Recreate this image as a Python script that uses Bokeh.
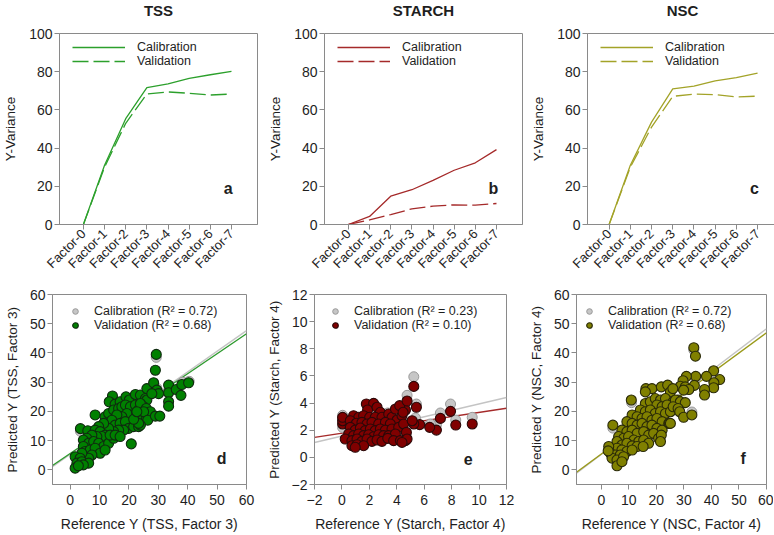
import math

from bokeh.embed import file_html
from bokeh.layouts import column, row
from bokeh.models import FixedTicker, Label, Range1d, Title
from bokeh.plotting import figure
from bokeh.resources import INLINE

# ---------------------------------------------------------------- data
factor_pos = [0, 1, 2, 3, 4, 5, 6, 7]
factor_labels = ["Factor-0", "Factor-1", "Factor-2", "Factor-3",
                 "Factor-4", "Factor-5", "Factor-6", "Factor-7"]

# explained Y-variance (%) per number of PLS factors
tss_cal_var = [0, 31.0, 55.4, 71.7, 73.6, 76.5, 78.4, 80.2]
tss_val_var = [0, 30.0, 53.0, 68.3, 69.4, 68.7, 67.8, 68.3]
starch_cal_var = [0, 4.2, 14.8, 18.2, 23.1, 28.4, 32.3, 39.2]
starch_val_var = [0, 2.4, 5.2, 8.2, 9.6, 10.3, 10.1, 11.0]
nsc_cal_var = [0, 31.0, 53.6, 71.0, 72.5, 75.2, 76.9, 79.2]
nsc_val_var = [0, 30.0, 51.0, 67.1, 68.3, 68.0, 66.8, 67.2]

# TSS: reference vs predicted (validation)
tss_val_x = [14.4, 13.3, 15.3, 17.0, 19.0, 20.1, 22.2, 23.9, 26.1, 25.6, 26.1,
             8.5, 3.5, 6.0, 20.8, 11.9, 13.1, 14.8, 16.5, 17.6, 18.8, 20.5,
             22.2, 23.3, 25.0, 24.4, 22.7, 21.0, 19.3, 17.6, 15.9, 14.2, 15.3,
             17.0, 18.8, 19.9, 21.6, 23.3, 18.2, 16.5, 14.8, 13.1, 11.4, 9.7,
             8.5, 10.2, 11.9, 10.8, 9.1, 7.4, 5.7, 4.5, 6.3, 8.0, 9.7, 11.4,
             13.1, 14.8, 13.6, 15.3, 17.0, 4.5, 5.1, 6.8, 8.5, 10.2, 11.9, 7.4,
             6.3, 4.0, 1.7, 3.4, 2.3, 4.0, 6.3, 1.7, 4.5, 2.8,
             29.3, 29.0, 28.4, 29.5, 30.1, 27.8, 33.5, 33.5, 33.5, 33.5, 36.1,
             38.0, 40.3, 37.7, 23.9, 25.9, 27.3, 25.0, 26.4, 29.0, 30.5, 23.9,
             23.3, 21.6, 22.7]
tss_val_y = [25.3, 23.3, 22.5, 23.3, 25.0, 23.9, 25.8, 25.6, 27.8, 24.4, 23.9,
             18.8, 14.1, 13.4, 8.9, 18.2, 19.3, 20.5, 21.0, 21.6, 22.2, 21.6,
             22.2, 20.5, 21.6, 18.8, 18.2, 18.8, 19.3, 18.2, 18.8, 17.0, 15.3,
             15.9, 16.5, 14.2, 14.8, 14.8, 13.6, 13.6, 13.1, 14.2, 15.9, 14.8,
             13.6, 13.1, 11.9, 11.4, 11.4, 11.9, 10.8, 10.2, 9.1, 9.7, 9.1, 8.0,
             9.1, 10.8, 11.9, 11.9, 11.4, 8.0, 6.3, 6.8, 7.4, 5.7, 6.8, 5.1,
             4.0, 5.7, 4.5, 4.0, 2.3, 2.8, 2.3, 0.6, 1.7, 1.4,
             39.5, 34.1, 29.8, 27.3, 26.1, 26.1, 29.0, 26.4, 23.3, 21.8, 27.5,
             29.2, 29.8, 25.5, 22.7, 21.0, 19.9, 19.9, 17.0, 18.4, 18.4, 15.3,
             15.9, 17.3, 19.9]
# TSS calibration points that show from behind the validation markers
tss_cal_x = [29.3, 3.5, 38.3, 40.5, 33.8, 30.0, 23.9, 29.5]
tss_cal_y = [38.5, 13.2, 30.0, 30.3, 27.0, 26.8, 23.0, 28.0]

# Starch: reference vs predicted (validation)
starch_val_x = [0.05, 0.05, 0.05,
                1.78, 2.31, 1.87, 2.56, 2.80, 0.85, 1.22, 1.58, 2.02, 2.43,
                2.92, 3.41, 3.65, 4.02, 4.38, 4.63, 3.90, 4.21, 0.61, 1.05,
                1.46, 1.83, 2.19, 2.68, 3.17, 3.53, 0.61, 0.97, 1.34, 1.70,
                2.07, 2.43, 2.80, 3.17, 3.65, 4.14, 4.50, 0.49, 0.85, 1.22,
                1.58, 1.95, 2.31, 2.68, 3.04, 3.41, 3.90, 0.24, 0.73, 1.10,
                1.46, 1.83, 2.19, 2.56, 2.92, 3.34, 3.77, 4.26, 4.63, 0.73,
                1.10, 1.58, 0.97,
                5.24, 5.43, 4.75, 7.92, 7.18, 8.30, 9.50, 6.89, 6.40, 5.67,
                5.24, 5.12, 4.70, 4.75, 4.38, 4.46]
starch_val_y = [2.46, 2.70, 2.95,
                3.93, 3.98, 3.49, 3.69, 3.32, 3.07, 2.95, 3.07, 2.95, 2.95,
                2.95, 3.19, 2.95, 2.75, 3.07, 3.49, 3.56, 3.81, 2.70, 2.51,
                2.58, 2.46, 2.58, 2.46, 2.58, 2.46, 2.21, 2.01, 2.16, 1.97,
                2.09, 1.97, 2.09, 2.01, 2.09, 2.21, 2.46, 1.72, 1.60, 1.72,
                1.60, 1.67, 1.52, 1.67, 1.60, 1.60, 1.72, 1.35, 1.23, 1.35,
                1.18, 1.35, 1.18, 1.28, 1.18, 1.40, 1.23, 1.23, 1.23, 0.86,
                0.93, 0.86, 0.74,
                5.23, 3.69, 4.15, 3.39, 2.87, 2.38, 2.46, 2.01, 2.21, 2.41,
                2.46, 2.70, 1.84, 1.35, 1.10, 3.32]
starch_cal_x = [0.05, 0.05, 0.05, 5.24, 5.43, 4.75, 7.92, 7.18, 8.30, 9.50,
                6.89, 6.45, 5.36, 4.46, 3.34, 4.60]
starch_cal_y = [2.20, 2.85, 3.10, 5.94, 3.93, 4.57, 3.93, 3.27, 2.75, 2.95,
                2.38, 2.46, 2.90, 1.72, 3.27, 3.45]

# NSC: reference vs predicted (validation)
nsc_val_x = [16.2, 18.4, 16.0, 21.8, 24.1, 25.1, 10.9, 16.0, 17.8, 19.6,
             21.5, 23.3, 26.1, 27.8, 20.2, 22.1, 23.9, 26.3, 28.1, 14.2,
             16.0, 17.8, 19.6, 21.5, 23.3, 25.1, 11.2, 13.0, 14.8, 16.6,
             18.4, 20.2, 22.1, 24.5, 9.3, 11.2, 13.0, 14.8, 16.6, 18.4,
             20.2, 22.1, 24.7, 7.5, 9.3, 11.2, 13.0, 15.4, 17.2, 19.0, 4.2,
             6.3, 8.1, 9.9, 11.8, 13.6, 15.4, 17.2, 20.8, 5.7, 7.5, 9.3, 11.2,
             13.0, 15.2, 21.8, 5.7, 7.5, 9.3, 11.2, 2.7, 3.3, 5.1, 6.9, 3.9,
             5.7, 8.1, 5.7, 7.5, 21.5, 2.5,
             33.6, 34.2, 40.8, 38.2, 43.0, 40.9, 40.8, 34.3, 33.8, 30.9, 29.7,
             28.7, 30.5, 31.8, 37.5, 37.5, 29.9, 26.0, 26.9, 28.7, 30.5, 26.1,
             27.9, 28.5, 29.9, 32.9, 25.1]
nsc_val_y = [27.8, 27.8, 26.7, 28.4, 29.0, 26.7, 23.9, 22.7, 23.3, 24.4,
             23.9, 24.4, 23.3, 23.9, 22.2, 21.6, 22.2, 21.0, 21.0, 20.5,
             19.9, 20.5, 19.3, 19.9, 19.3, 19.9, 18.8, 18.2, 17.6, 18.2,
             17.0, 17.6, 16.5, 15.9, 16.5, 15.9, 15.3, 15.9, 14.8, 15.3,
             14.2, 13.6, 15.9, 13.6, 13.1, 13.6, 12.5, 13.1, 11.9, 12.5, 15.3,
             11.4, 10.8, 11.4, 10.2, 9.7, 10.2, 9.1, 10.8, 9.7, 8.5, 9.1, 8.2,
             8.0, 8.0, 11.9, 7.4, 6.8, 6.3, 6.8, 8.0, 5.7, 5.1, 5.1, 4.0,
             3.4, 4.5, 1.4, 2.8, 9.7, 6.5,
             41.8, 38.9, 33.9, 32.0, 30.9, 29.8, 28.1, 32.0, 28.9, 32.0, 30.5,
             28.6, 28.4, 27.5, 27.5, 25.6, 27.3, 27.8, 23.9, 23.3, 23.0, 21.6,
             21.0, 19.9, 18.0, 18.8, 15.9]
nsc_cal_x = [4.2, 33.6, 40.8, 37.6, 32.9, 30.0, 34.3, 11.0, 5.0]
nsc_cal_y = [14.3, 41.0, 30.5, 27.0, 19.8, 28.5, 31.3, 23.0, 8.0]

# fitted regression lines (slope, intercept)
tss_cal_fit = (0.706, 5.3)
tss_val_fit = (0.683, 5.6)
starch_cal_fit = (0.237, 1.57)
starch_val_fit = (0.153, 1.78)
nsc_cal_fit = (0.716, 5.3)
nsc_val_fit = (0.692, 5.4)

r2_labels = {
    "tss": ("0.72", "0.68"),
    "starch": ("0.23", "0.10"),
    "nsc": ("0.72", "0.68"),
}

FONT = "Liberation Sans"
FRAME_GREY = "#8a8a8a"
TEXT = "#1e1e1e"


def style_axes(p, tick_size="14px"):
    p.outline_line_color = FRAME_GREY
    p.grid.visible = False
    for ax in p.axis:
        ax.axis_line_color = FRAME_GREY
        ax.major_tick_line_color = FRAME_GREY
        ax.minor_tick_line_color = None
        ax.major_tick_out = 5
        ax.major_tick_in = 0
        ax.major_label_standoff = 2
        ax.major_label_text_font = FONT
        ax.major_label_text_font_size = tick_size
        ax.major_label_text_color = TEXT
        ax.axis_label_text_font = FONT
        ax.axis_label_text_font_style = "normal"
        ax.axis_label_text_color = TEXT


def variance_panel(title, cal, val, color, letter, borders, frame_w, xr):
    bl, br = borders
    p = figure(frame_width=frame_w, frame_height=191,
               min_border_left=bl, min_border_right=br,
               min_border_top=33, min_border_bottom=56,
               x_range=Range1d(*xr), y_range=Range1d(0, 100),
               output_backend="svg", toolbar_location=None, title=title)
    # blank strip between the heading and the frame
    p.add_layout(Title(text=" ", text_font_size="2px", standoff=9), "above")
    p.title.align = "center"
    p.title.vertical_align = "top"
    p.title.standoff = 0
    p.title.text_font = FONT
    p.title.text_font_size = "15px"
    p.title.text_font_style = "bold"
    p.title.text_color = TEXT

    p.line(factor_pos, cal, line_color=color, line_width=1.3,
           legend_label="Calibration")
    p.line(factor_pos, val, line_color=color, line_width=1.3,
           line_dash="16 5", legend_label="Validation")

    style_axes(p)
    p.xaxis.ticker = FixedTicker(ticks=factor_pos)
    p.xaxis.major_label_overrides = {i: lab for i, lab in zip(factor_pos, factor_labels)}
    p.xaxis.major_label_orientation = math.pi / 4
    p.xaxis.major_label_text_font_size = "13px"
    p.yaxis.ticker = FixedTicker(ticks=[0, 20, 40, 60, 80, 100])
    p.yaxis.axis_label = "Y-Variance"
    p.yaxis.axis_label_text_font_size = "13.5px"
    p.yaxis.axis_label_standoff = 8

    lg = p.legend[0]
    lg.location = (9, 152)
    lg.padding = 4
    lg.spacing = 0
    lg.glyph_width = 53
    lg.glyph_height = 12
    lg.label_height = 12
    lg.label_standoff = 12
    lg.label_text_font = FONT
    lg.label_text_font_size = "12.5px"
    lg.label_text_color = TEXT
    lg.background_fill_alpha = 0
    lg.border_line_alpha = 0

    p.add_layout(Label(x=6.85, y=18.8, text=letter, text_font=FONT,
                       text_font_size="16px", text_font_style="bold",
                       text_color=TEXT, text_align="center",
                       text_baseline="middle"))
    return p


def scatter_panel(key, cal_xy, val_xy, fits, fill, edge, fit_color, letter,
                  letter_xy, borders, frame_w, xr, yr, xticks, yticks,
                  xlabel, ylabel, legend_x):
    bl, br = borders
    p = figure(frame_width=frame_w, frame_height=190,
               min_border_left=bl, min_border_right=br,
               min_border_top=14, min_border_bottom=51,
               x_range=Range1d(*xr), y_range=Range1d(*yr),
               output_backend="svg", toolbar_location=None)
    cal_fit, val_fit = fits
    line_x = [xr[0], xr[1]]
    p.line(line_x, [cal_fit[0] * x + cal_fit[1] for x in line_x],
           line_color="#c4c4c4", line_width=1.4)
    p.line(line_x, [val_fit[0] * x + val_fit[1] for x in line_x],
           line_color=fit_color, line_width=1.4)

    r2_cal, r2_val = r2_labels[key]
    p.scatter(cal_xy[0], cal_xy[1], size=10, fill_color="#c6c6c6",
              line_color="#9a9a9a", line_width=1,
              legend_label=f"Calibration (R² = {r2_cal})")
    p.scatter(val_xy[0], val_xy[1], size=10, fill_color=fill,
              line_color=edge, line_width=1.1,
              legend_label=f"Validation (R² = {r2_val})")

    style_axes(p)
    p.xaxis.ticker = FixedTicker(ticks=xticks)
    p.yaxis.ticker = FixedTicker(ticks=yticks)
    p.xaxis.major_label_standoff = 5
    p.xaxis.axis_label = xlabel
    p.yaxis.axis_label = ylabel
    p.xaxis.axis_label_text_font_size = "14px"
    p.yaxis.axis_label_text_font_size = "13.5px"
    p.xaxis.axis_label_standoff = 8
    p.yaxis.axis_label_standoff = 7

    lg = p.legend[0]
    lg.location = (legend_x, 148)
    lg.padding = 4
    lg.spacing = 0
    lg.glyph_width = 14
    lg.glyph_height = 14
    lg.label_height = 14
    lg.label_standoff = 12
    lg.label_text_font = FONT
    lg.label_text_font_size = "12.5px"
    lg.label_text_color = TEXT
    lg.background_fill_alpha = 0
    lg.border_line_alpha = 0

    p.add_layout(Label(x=letter_xy[0], y=letter_xy[1], text=letter,
                       text_font=FONT, text_font_size="16px",
                       text_font_style="bold", text_color=TEXT,
                       text_align="center", text_baseline="middle"))
    return p


pa = variance_panel("TSS", tss_cal_var, tss_val_var, "#2ca02c", "a",
                    (52, 8), 198, (-1.13, 8.23))
pb = variance_panel("STARCH", starch_cal_var, starch_val_var, "#a52a2a", "b",
                    (54, 6), 198, (-1.13, 8.23))
pc = variance_panel("NSC", nsc_cal_var, nsc_val_var, "#a3a328", "c",
                    (59, 8), 190, (-1.02, 7.94))

ticks60 = [0, 10, 20, 30, 40, 50, 60]
ticks12 = [-2, 0, 2, 4, 6, 8, 10, 12]

pd_ = scatter_panel("tss", (tss_cal_x, tss_cal_y), (tss_val_x, tss_val_y),
                    (tss_cal_fit, tss_val_fit), "#008000", "#0f2a0f",
                    "#2e9a2e", "d", (51.5, 4.0), (52, 12), 194, (-6, 60),
                    (-5, 60), ticks60, ticks60,
                    "Reference Y (TSS, Factor 3)", "Predicted Y (TSS, Factor 3)", 12)
pe = scatter_panel("starch", (starch_cal_x, starch_cal_y),
                   (starch_val_x, starch_val_y),
                   (starch_cal_fit, starch_val_fit), "#800000", "#2a0808",
                   "#a52a2a", "e", (9.2, -0.1), (56, 10), 192, (-2, 12),
                   (-2, 12), ticks12, ticks12,
                   "Reference Y (Starch, Factor 4)",
                   "Predicted Y (Starch, Factor 4)", 10)
pf = scatter_panel("nsc", (nsc_cal_x, nsc_cal_y), (nsc_val_x, nsc_val_y),
                   (nsc_cal_fit, nsc_val_fit), "#808000", "#2a2a08",
                   "#9a9a1a", "f", (51.5, 4.0), (60, 7), 190, (-9, 60),
                   (-5, 60), ticks60, ticks60,
                   "Reference Y (NSC, Factor 4)", "Predicted Y (NSC, Factor 4)", 2)

layout = column(row(pa, pb, pc), row(pd_, pe, pf))

open("out.html", "w").write(file_html(layout, INLINE))
